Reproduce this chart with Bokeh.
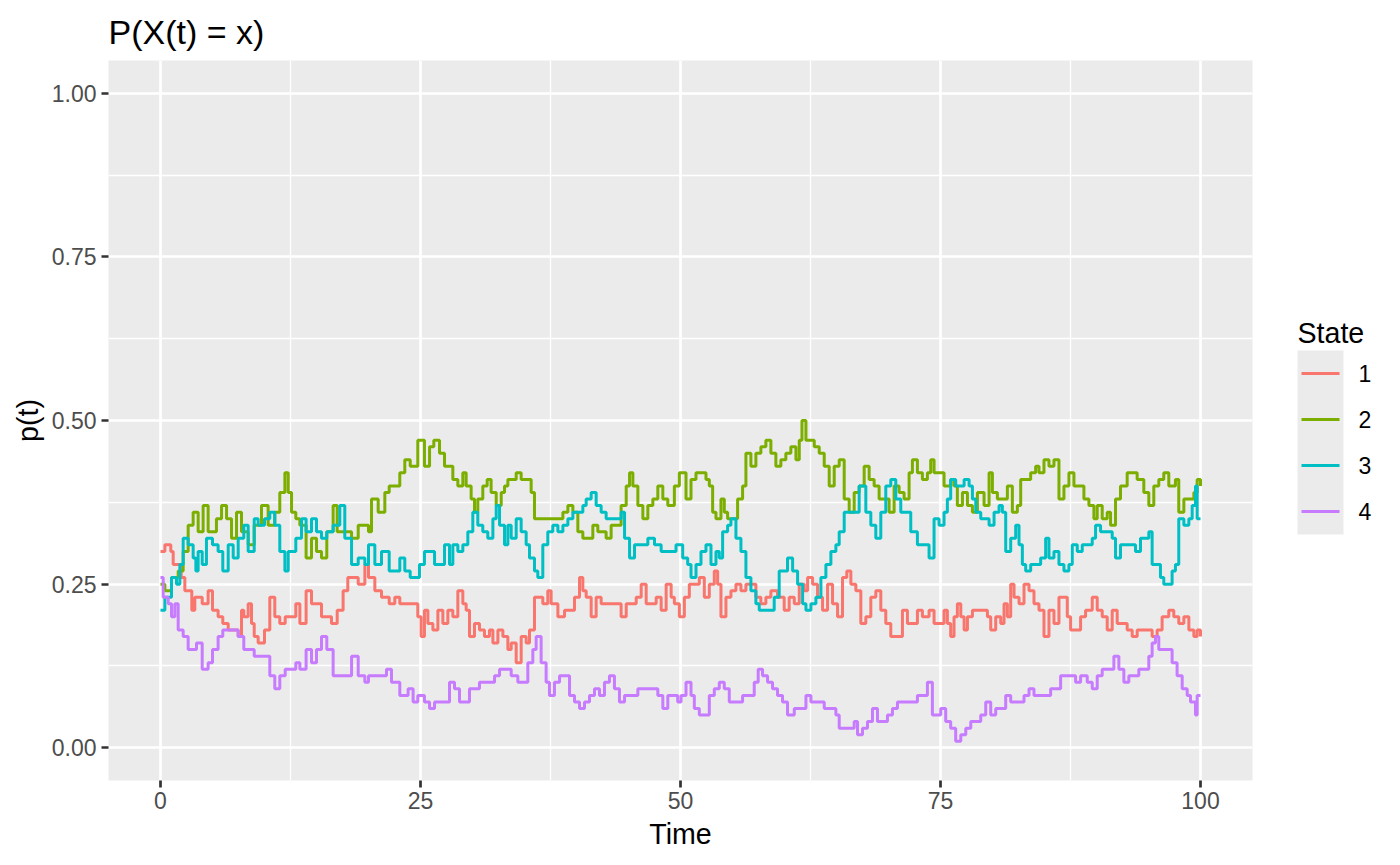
from bokeh.plotting import figure
from bokeh.models import Range1d, FixedTicker, PrintfTickFormatter
from bokeh.layouts import row
from bokeh.embed import file_html
from bokeh.resources import INLINE
from bokeh.core.properties import value

# ---------------- data ----------------
states = ["1", "2", "3", "4"]
colors = ["#F8766D", "#7CAE00", "#00BFC4", "#C77CFF"]
x_ticks = [0, 25, 50, 75, 100]
x_minor = [12.5, 37.5, 62.5, 87.5]
y_ticks = [0.0, 0.25, 0.5, 0.75, 1.0]
y_minor = [0.125, 0.375, 0.625, 0.875]

# (time, probability) step points, one list per state
state1 = [
    (0.00, 0.30), (0.42, 0.31), (0.99, 0.30), (1.22, 0.28), (1.99, 0.26), (2.34, 0.24), (3.01, 0.21), (3.30, 0.23),
    (4.01, 0.22), (4.58, 0.24), (5.00, 0.21), (5.54, 0.20), (5.99, 0.19), (6.51, 0.18), (7.47, 0.17), (7.79, 0.21),
    (8.01, 0.20), (8.43, 0.22), (8.75, 0.19), (9.01, 0.17), (9.39, 0.16), (10.00, 0.18), (10.51, 0.23), (10.99, 0.20),
    (11.47, 0.19), (11.99, 0.20), (13.01, 0.22), (13.40, 0.19), (14.00, 0.24), (14.52, 0.22), (15.48, 0.20), (16.44, 0.19),
    (16.99, 0.21), (17.56, 0.24), (18.01, 0.26), (19.01, 0.25), (19.65, 0.28), (20.00, 0.26), (20.61, 0.24), (21.25, 0.23),
    (21.99, 0.22), (22.53, 0.23), (23.01, 0.22), (24.74, 0.20), (25.06, 0.17), (25.38, 0.21), (25.71, 0.19), (26.19, 0.18),
    (26.67, 0.21), (27.15, 0.19), (27.63, 0.21), (28.11, 0.20), (28.59, 0.24), (29.07, 0.22), (29.39, 0.21), (29.71, 0.17),
    (30.19, 0.19), (30.67, 0.18), (31.15, 0.17), (31.63, 0.18), (31.96, 0.16), (32.44, 0.18), (32.92, 0.17), (33.40, 0.15),
    (33.72, 0.16), (34.20, 0.13), (34.68, 0.17), (35.16, 0.16), (35.48, 0.18), (35.96, 0.23), (36.76, 0.22), (37.24, 0.24),
    (37.56, 0.22), (38.21, 0.20), (38.85, 0.21), (39.81, 0.23), (40.29, 0.26), (40.61, 0.24), (40.93, 0.23), (41.41, 0.20),
    (41.89, 0.23), (42.37, 0.22), (44.29, 0.20), (44.78, 0.22), (45.74, 0.23), (46.22, 0.25), (46.70, 0.22), (47.66, 0.23),
    (48.14, 0.21), (48.62, 0.25), (49.10, 0.23), (49.41, 0.22), (49.89, 0.20), (50.37, 0.23), (50.85, 0.25), (51.81, 0.26),
    (52.29, 0.23), (52.77, 0.25), (53.25, 0.27), (53.57, 0.25), (53.89, 0.20), (54.37, 0.23), (54.85, 0.24), (55.33, 0.25),
    (55.81, 0.24), (56.29, 0.25), (57.25, 0.23), (57.73, 0.22), (58.21, 0.23), (58.69, 0.24), (59.33, 0.23), (59.97, 0.21),
    (60.45, 0.23), (60.94, 0.22), (61.42, 0.25), (61.90, 0.24), (62.22, 0.26), (62.70, 0.25), (63.18, 0.23), (63.66, 0.21),
    (64.14, 0.25), (64.62, 0.22), (65.10, 0.20), (65.58, 0.26), (65.99, 0.27), (66.38, 0.25), (66.86, 0.24), (67.34, 0.19),
    (67.82, 0.20), (68.30, 0.23), (68.78, 0.24), (69.26, 0.21), (69.74, 0.19), (70.22, 0.17), (71.34, 0.21), (71.82, 0.19),
    (72.78, 0.21), (73.26, 0.20), (73.90, 0.21), (74.38, 0.19), (75.34, 0.21), (75.66, 0.19), (75.98, 0.17), (76.30, 0.20),
    (76.62, 0.22), (76.95, 0.20), (77.27, 0.18), (77.59, 0.20), (78.07, 0.21), (79.51, 0.20), (79.83, 0.18), (80.31, 0.20),
    (80.79, 0.19), (81.11, 0.22), (81.43, 0.20), (81.75, 0.25), (82.07, 0.23), (82.55, 0.22), (83.03, 0.25), (83.51, 0.24),
    (83.99, 0.22), (84.47, 0.21), (84.95, 0.17), (85.43, 0.21), (85.91, 0.19), (86.39, 0.23), (87.19, 0.20), (87.51, 0.18),
    (88.47, 0.20), (88.95, 0.21), (89.59, 0.23), (90.07, 0.21), (90.55, 0.20), (91.03, 0.18), (91.51, 0.21), (91.99, 0.19),
    (92.95, 0.18), (93.43, 0.17), (93.91, 0.18), (95.35, 0.17), (95.83, 0.18), (96.31, 0.20), (96.95, 0.21), (97.43, 0.20),
    (97.91, 0.19), (98.40, 0.20), (98.88, 0.18), (99.36, 0.17), (99.68, 0.18), (100.00, 0.17),
]

state2 = [
    (0.00, 0.25), (0.42, 0.24), (1.06, 0.26), (1.70, 0.27), (2.18, 0.30), (2.66, 0.34), (3.14, 0.36), (3.62, 0.33),
    (4.10, 0.37), (4.58, 0.33), (5.38, 0.35), (5.87, 0.37), (6.35, 0.35), (6.83, 0.32), (7.31, 0.36), (7.79, 0.33),
    (8.43, 0.31), (9.01, 0.34), (9.71, 0.37), (10.35, 0.34), (10.99, 0.36), (11.47, 0.39), (11.96, 0.42), (12.28, 0.39),
    (12.60, 0.36), (13.01, 0.35), (13.40, 0.34), (14.00, 0.29), (14.52, 0.32), (15.00, 0.30), (15.48, 0.29), (15.99, 0.33),
    (16.60, 0.37), (16.99, 0.33), (18.37, 0.32), (19.01, 0.34), (20.00, 0.33), (20.29, 0.38), (20.93, 0.36), (21.57, 0.39),
    (21.99, 0.40), (23.01, 0.42), (23.49, 0.44), (24.01, 0.43), (24.74, 0.47), (25.38, 0.43), (25.87, 0.46), (26.28, 0.47),
    (26.83, 0.45), (27.31, 0.43), (28.11, 0.41), (28.59, 0.40), (29.07, 0.42), (29.39, 0.40), (29.87, 0.38), (30.19, 0.36),
    (30.51, 0.38), (30.99, 0.40), (31.41, 0.41), (31.79, 0.39), (32.28, 0.37), (32.76, 0.39), (33.08, 0.40), (33.40, 0.41),
    (34.20, 0.42), (34.68, 0.41), (35.64, 0.39), (35.96, 0.35), (38.69, 0.36), (39.17, 0.37), (39.65, 0.36), (40.13, 0.33),
    (40.61, 0.32), (41.57, 0.34), (42.05, 0.33), (42.85, 0.32), (43.33, 0.34), (44.29, 0.37), (44.78, 0.40), (45.10, 0.42),
    (45.42, 0.40), (45.90, 0.37), (46.38, 0.35), (46.86, 0.37), (47.34, 0.38), (47.82, 0.40), (48.30, 0.38), (48.78, 0.37),
    (49.41, 0.40), (49.89, 0.42), (50.53, 0.38), (51.01, 0.41), (51.49, 0.42), (52.45, 0.41), (52.77, 0.40), (53.09, 0.36),
    (53.41, 0.35), (53.89, 0.38), (54.21, 0.36), (54.53, 0.35), (55.49, 0.38), (55.97, 0.40), (56.29, 0.45), (56.77, 0.43),
    (57.25, 0.45), (57.73, 0.46), (58.21, 0.47), (58.69, 0.45), (59.17, 0.43), (59.65, 0.44), (60.13, 0.45), (60.61, 0.46),
    (61.10, 0.44), (61.42, 0.47), (61.68, 0.50), (62.06, 0.47), (62.86, 0.46), (63.34, 0.45), (63.82, 0.43), (64.30, 0.40),
    (64.78, 0.43), (65.26, 0.44), (65.74, 0.38), (66.22, 0.36), (66.70, 0.39), (67.18, 0.40), (67.66, 0.43), (68.14, 0.41),
    (68.62, 0.40), (69.10, 0.38), (70.06, 0.36), (70.54, 0.40), (71.02, 0.39), (71.50, 0.38), (71.98, 0.42), (72.30, 0.44),
    (72.78, 0.42), (73.26, 0.41), (73.74, 0.42), (74.06, 0.44), (74.38, 0.42), (75.34, 0.40), (75.98, 0.41), (76.30, 0.40),
    (76.62, 0.37), (77.11, 0.39), (77.59, 0.37), (78.07, 0.36), (78.55, 0.39), (79.19, 0.37), (79.67, 0.42), (79.99, 0.39),
    (80.47, 0.38), (81.43, 0.40), (81.91, 0.36), (82.39, 0.37), (82.71, 0.41), (83.67, 0.42), (84.15, 0.43), (84.47, 0.42),
    (84.95, 0.44), (85.43, 0.43), (85.91, 0.44), (86.39, 0.38), (86.87, 0.40), (87.35, 0.42), (87.83, 0.40), (88.79, 0.38),
    (89.27, 0.37), (89.75, 0.35), (90.07, 0.37), (90.55, 0.35), (91.03, 0.36), (91.35, 0.34), (91.83, 0.38), (92.31, 0.40),
    (92.95, 0.42), (93.91, 0.41), (94.55, 0.39), (95.03, 0.37), (95.51, 0.40), (95.99, 0.41), (96.47, 0.42), (96.95, 0.40),
    (97.59, 0.41), (97.91, 0.36), (98.40, 0.38), (99.36, 0.39), (99.68, 0.41), (100.00, 0.40),
]

state3 = [
    (0.00, 0.21), (0.42, 0.23), (1.06, 0.26), (1.54, 0.25), (1.86, 0.28), (2.18, 0.32), (2.66, 0.31), (3.14, 0.29),
    (3.40, 0.27), (3.62, 0.30), (4.01, 0.28), (4.42, 0.32), (5.00, 0.31), (5.54, 0.30), (5.99, 0.27), (6.51, 0.31),
    (6.99, 0.29), (7.47, 0.32), (8.01, 0.34), (8.43, 0.30), (9.01, 0.35), (9.39, 0.34), (10.00, 0.35), (10.51, 0.36),
    (10.99, 0.34), (11.47, 0.30), (11.96, 0.27), (12.28, 0.30), (13.01, 0.32), (13.56, 0.35), (14.00, 0.33), (14.52, 0.35),
    (15.00, 0.33), (15.48, 0.32), (15.99, 0.33), (16.60, 0.34), (17.24, 0.37), (17.72, 0.32), (18.37, 0.28), (19.01, 0.29),
    (19.65, 0.28), (20.00, 0.31), (20.61, 0.28), (21.25, 0.30), (21.99, 0.27), (23.01, 0.29), (23.49, 0.27), (24.01, 0.26),
    (24.90, 0.28), (25.38, 0.30), (26.35, 0.28), (27.31, 0.31), (27.79, 0.28), (28.11, 0.31), (28.59, 0.30), (29.07, 0.31),
    (29.55, 0.33), (30.03, 0.36), (30.51, 0.34), (30.99, 0.33), (31.47, 0.32), (31.96, 0.35), (32.28, 0.37), (32.60, 0.34),
    (33.08, 0.31), (33.40, 0.34), (33.72, 0.32), (34.20, 0.35), (34.68, 0.33), (35.16, 0.31), (35.48, 0.29), (35.96, 0.27),
    (36.28, 0.26), (36.76, 0.31), (37.24, 0.33), (37.72, 0.34), (38.21, 0.33), (38.69, 0.34), (39.17, 0.35), (39.65, 0.36),
    (40.61, 0.37), (40.93, 0.38), (41.41, 0.39), (41.89, 0.37), (42.37, 0.36), (42.85, 0.35), (44.29, 0.36), (44.62, 0.32),
    (45.10, 0.29), (45.58, 0.31), (46.86, 0.32), (47.50, 0.31), (48.14, 0.30), (49.57, 0.31), (50.21, 0.29), (50.69, 0.28),
    (51.01, 0.26), (51.49, 0.28), (51.97, 0.30), (52.45, 0.31), (52.93, 0.28), (53.41, 0.30), (53.73, 0.29), (54.05, 0.33),
    (54.53, 0.34), (54.85, 0.35), (55.33, 0.32), (55.81, 0.30), (56.29, 0.26), (56.77, 0.24), (57.25, 0.22), (57.57, 0.21),
    (59.01, 0.23), (59.49, 0.27), (60.29, 0.29), (60.78, 0.27), (61.26, 0.25), (61.74, 0.22), (62.06, 0.21), (62.54, 0.22),
    (63.02, 0.23), (63.50, 0.26), (63.98, 0.28), (64.46, 0.30), (64.94, 0.31), (65.26, 0.33), (65.74, 0.36), (67.18, 0.40),
    (67.82, 0.36), (68.30, 0.34), (68.78, 0.32), (69.26, 0.36), (69.74, 0.40), (70.22, 0.41), (70.70, 0.38), (71.18, 0.36),
    (72.14, 0.33), (72.78, 0.31), (73.90, 0.29), (74.38, 0.35), (74.86, 0.34), (75.34, 0.36), (75.66, 0.38), (75.98, 0.41),
    (76.46, 0.40), (77.27, 0.41), (77.75, 0.40), (78.07, 0.38), (78.39, 0.36), (78.87, 0.35), (79.67, 0.34), (80.15, 0.36),
    (80.63, 0.37), (80.95, 0.36), (81.27, 0.30), (81.75, 0.32), (82.23, 0.34), (82.55, 0.31), (82.87, 0.28), (83.19, 0.27),
    (83.67, 0.28), (84.63, 0.29), (85.11, 0.32), (85.43, 0.29), (85.91, 0.30), (86.39, 0.28), (86.87, 0.27), (87.35, 0.28),
    (87.67, 0.31), (88.15, 0.30), (88.63, 0.31), (89.59, 0.32), (89.91, 0.34), (90.39, 0.33), (91.51, 0.32), (91.83, 0.29),
    (92.31, 0.31), (93.75, 0.30), (94.23, 0.32), (95.03, 0.33), (95.35, 0.28), (96.15, 0.26), (96.47, 0.25), (97.27, 0.27),
    (97.59, 0.28), (97.91, 0.35), (98.40, 0.34), (98.88, 0.35), (99.20, 0.37), (99.52, 0.40), (99.68, 0.35), (100.00, 0.35),
]

state4 = [
    (0.00, 0.26), (0.26, 0.23), (0.74, 0.22), (1.06, 0.20), (1.38, 0.22), (1.70, 0.18), (2.18, 0.17), (2.66, 0.15),
    (3.46, 0.16), (4.01, 0.12), (4.58, 0.13), (5.00, 0.15), (5.54, 0.17), (5.99, 0.18), (7.47, 0.17), (8.01, 0.15),
    (9.01, 0.14), (10.51, 0.11), (10.99, 0.09), (11.47, 0.11), (11.99, 0.12), (13.01, 0.13), (13.40, 0.12), (14.00, 0.15),
    (14.52, 0.13), (15.00, 0.15), (15.48, 0.17), (15.99, 0.15), (16.60, 0.11), (18.37, 0.14), (19.01, 0.11), (19.65, 0.10),
    (20.00, 0.11), (21.73, 0.12), (22.21, 0.10), (23.01, 0.08), (23.81, 0.09), (24.29, 0.07), (24.74, 0.08), (25.38, 0.07),
    (25.87, 0.06), (26.35, 0.07), (27.79, 0.10), (28.27, 0.09), (28.75, 0.07), (29.71, 0.09), (30.67, 0.10), (32.12, 0.11),
    (32.60, 0.12), (33.72, 0.11), (34.36, 0.10), (35.32, 0.13), (35.80, 0.15), (36.12, 0.17), (36.60, 0.13), (37.08, 0.10),
    (37.40, 0.08), (37.88, 0.10), (38.37, 0.11), (39.33, 0.08), (39.81, 0.07), (40.29, 0.06), (40.77, 0.07), (41.25, 0.08),
    (41.73, 0.09), (42.21, 0.08), (42.69, 0.10), (43.17, 0.11), (43.65, 0.09), (44.13, 0.07), (44.62, 0.08), (45.90, 0.09),
    (47.82, 0.08), (48.30, 0.06), (48.78, 0.08), (49.73, 0.07), (50.05, 0.08), (50.53, 0.10), (51.01, 0.08), (51.33, 0.06),
    (51.81, 0.05), (52.77, 0.08), (53.25, 0.09), (53.73, 0.10), (54.21, 0.09), (54.69, 0.07), (55.97, 0.08), (57.09, 0.10),
    (57.47, 0.12), (57.89, 0.11), (58.37, 0.10), (58.85, 0.09), (59.33, 0.08), (59.81, 0.07), (60.29, 0.05), (60.94, 0.06),
    (62.06, 0.08), (62.54, 0.07), (63.82, 0.06), (64.94, 0.05), (65.26, 0.03), (66.70, 0.04), (67.02, 0.02), (67.50, 0.03),
    (67.98, 0.04), (68.46, 0.06), (68.94, 0.04), (69.90, 0.05), (70.38, 0.06), (70.86, 0.07), (72.78, 0.08), (73.74, 0.10),
    (74.22, 0.05), (75.02, 0.06), (75.50, 0.04), (75.98, 0.03), (76.46, 0.01), (76.95, 0.02), (77.43, 0.03), (77.91, 0.04),
    (78.87, 0.05), (79.35, 0.07), (79.83, 0.05), (80.31, 0.06), (81.27, 0.08), (81.75, 0.07), (83.03, 0.08), (83.51, 0.09),
    (83.99, 0.08), (85.59, 0.09), (86.55, 0.11), (87.99, 0.10), (88.47, 0.11), (89.11, 0.10), (89.59, 0.09), (90.07, 0.11),
    (90.55, 0.12), (91.67, 0.14), (92.15, 0.12), (92.63, 0.10), (93.11, 0.11), (94.07, 0.12), (95.03, 0.14), (95.35, 0.16),
    (95.67, 0.17), (95.99, 0.15), (97.27, 0.13), (97.75, 0.11), (98.24, 0.09), (98.72, 0.08), (99.04, 0.07), (99.52, 0.05),
    (99.68, 0.08), (100.00, 0.08),
]

series = [state1, state2, state3, state4]

# ---------------- styling ----------------
FONT = "Liberation Sans"
W_MAIN, W_LEG, H = 1278, 114, 857
FRAME_TOP, FRAME_BOTTOM = 60, 780
LW = 3.0

p = figure(width=W_MAIN, height=H, output_backend="svg", toolbar_location=None,
           x_range=Range1d(-5, 105), y_range=Range1d(-0.05, 1.05),
           min_border_left=108, min_border_right=26, min_border_top=FRAME_TOP,
           min_border_bottom=H - FRAME_BOTTOM,
           title="P(X(t) = x)")
p.background_fill_color = "#EBEBEB"
p.border_fill_color = "white"
p.outline_line_color = None

p.title.text_font = FONT
p.title.text_font_size = "34px"
p.title.text_font_style = "normal"
p.title.text_color = "black"
p.title.align = "left"
p.title.standoff = 20

p.xaxis.ticker = FixedTicker(ticks=x_ticks, minor_ticks=x_minor)
p.yaxis.ticker = FixedTicker(ticks=y_ticks, minor_ticks=y_minor)
p.yaxis.formatter = PrintfTickFormatter(format="%.2f")
p.xaxis.axis_label = "Time"
p.yaxis.axis_label = "p(t)"

for ax in (p.xaxis[0], p.yaxis[0]):
    ax.axis_line_color = None
    ax.major_tick_line_color = "#333333"
    ax.major_tick_line_width = 2.7
    ax.major_tick_out = 7
    ax.major_tick_in = 0
    ax.minor_tick_line_color = None
    ax.major_label_text_font = FONT
    ax.major_label_text_font_size = "23px"
    ax.major_label_text_color = "#4D4D4D"
    ax.axis_label_text_font = FONT
    ax.axis_label_text_font_size = "28.6px"
    ax.axis_label_text_font_style = "normal"
    ax.axis_label_text_color = "black"
p.xaxis.major_label_standoff = 4
p.yaxis.major_label_standoff = 5
p.xaxis.axis_label_standoff = 6
p.yaxis.axis_label_standoff = 5

for g in (p.xgrid[0], p.ygrid[0]):
    g.grid_line_color = "white"
    g.grid_line_width = 2.7
    g.minor_grid_line_color = "white"
    g.minor_grid_line_width = 1.3

for pts, c in zip(series, colors):
    t = [a for a, _ in pts]
    v = [b for _, b in pts]
    p.step(x=t, y=v, mode="after", line_color=c, line_width=LW)

# ---------------- legend (separate panel, frame aligned with main frame) ----------------
lg = figure(width=W_LEG, height=H, output_backend="svg", toolbar_location=None,
            x_range=Range1d(0, W_LEG), y_range=Range1d(FRAME_BOTTOM, FRAME_TOP),
            x_axis_type=None, y_axis_type=None, min_border=0,
            min_border_top=FRAME_TOP, min_border_bottom=H - FRAME_BOTTOM)
lg.outline_line_color = None
lg.background_fill_color = "white"
lg.border_fill_color = "white"
lg.grid.visible = False

key_h = 46
key_top = 350
key_y = [key_top + key_h * (i + 0.5) for i in range(len(states))]
lg.quad(left=[19], right=[65], top=[key_top], bottom=[key_top + key_h * len(states)],
        fill_color="#EBEBEB", line_color=None)
lg.segment(x0=[23] * len(states), x1=[61] * len(states), y0=key_y, y1=key_y,
           line_color=colors, line_width=LW)
lg.text(x=[80] * len(states), y=key_y, text=states, text_baseline="middle",
        text_font=value(FONT), text_font_size="23px", text_color="black")
lg.text(x=[19], y=[332], text=["State"], text_baseline="alphabetic",
        text_font=value(FONT), text_font_size="28.6px", text_color="black")

layout = row(p, lg, spacing=0)
open("out.html", "w").write(file_html(layout, INLINE))
